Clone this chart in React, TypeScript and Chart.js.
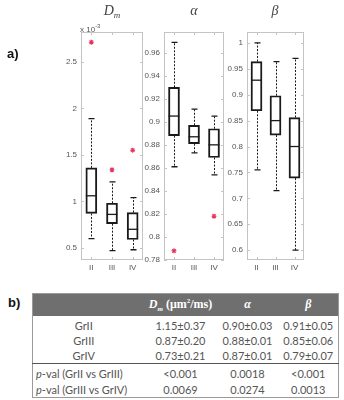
import React, { useEffect, useRef } from "react";
import { Chart, registerables } from "chart.js";

Chart.register(...registerables);

const GROUPS = ["II", "III", "IV"];

// D_m panel (values x 10^-3)
const DM_LOW = [0.6, 0.47, 0.48];
const DM_Q1 = [0.87, 0.76, 0.59];
const DM_MED = [1.06, 0.86, 0.7];
const DM_Q3 = [1.36, 0.98, 0.88];
const DM_HIGH = [1.89, 1.21, 1.04];
const DM_OUT: (number | null)[] = [2.71, 1.34, 1.55];
const DM_TICKS = [0.5, 1, 1.5, 2, 2.5];
const DM_MIN = 0.37;
const DM_MAX = 2.82;

// alpha panel
const AL_LOW = [0.861, 0.873, 0.854];
const AL_Q1 = [0.888, 0.881, 0.869];
const AL_MED = [0.905, 0.887, 0.88];
const AL_Q3 = [0.93, 0.897, 0.894];
const AL_HIGH = [0.969, 0.911, 0.905];
const AL_OUT: (number | null)[] = [0.788, null, 0.818];
const AL_TICKS = [0.78, 0.8, 0.82, 0.84, 0.86, 0.88, 0.9, 0.92, 0.94, 0.96];
const AL_MIN = 0.78;
const AL_MAX = 0.978;

// beta panel
const BE_LOW = [0.755, 0.715, 0.6];
const BE_Q1 = [0.869, 0.822, 0.739];
const BE_MED = [0.928, 0.85, 0.8];
const BE_Q3 = [0.964, 0.898, 0.856];
const BE_HIGH = [1.0, 0.964, 0.97];
const BE_OUT: (number | null)[] = [null, null, null];
const BE_TICKS = [0.6, 0.65, 0.7, 0.75, 0.8, 0.85, 0.9, 0.95, 1];
const BE_MIN = 0.581;
const BE_MAX = 1.021;

// table
const TABLE_GROUPS = ["GrII", "GrIII", "GrIV"];
const TABLE_DM = ["1.15±0.37", "0.87±0.20", "0.73±0.21"];
const TABLE_ALPHA = ["0.90±0.03", "0.88±0.01", "0.87±0.01"];
const TABLE_BETA = ["0.91±0.05", "0.85±0.06", "0.79±0.07"];
const PVAL_LABELS = ["(GrII vs GrIII)", "(GrIII vs GrIV)"];
const PVAL_DM = ["<0.001", "0.0069"];
const PVAL_ALPHA = ["0.0018", "0.0274"];
const PVAL_BETA = ["<0.001", "0.0013"];

const AXIS_COLOR = "#c4c4c4";
const TICK_TEXT = "#555";
const BOX_COLOR = "#1a1a1a";
const OUT_COLOR = "rgb(232,52,92)";
const TICK_FONT = { family: "'Liberation Sans', Arial, sans-serif", size: 8 };

type PanelProps = {
  low: number[];
  q1: number[];
  med: number[];
  q3: number[];
  high: number[];
  out: (number | null)[];
  ticks: number[];
  min: number;
  max: number;
  left: number;
  width: number;
  yAxisWidth: number;
  padRight: number;
};

function BoxPanel(p: PanelProps) {
  const ref = useRef<HTMLCanvasElement>(null);
  useEffect(() => {
    const canvas = ref.current;
    if (!canvas) return;
    const boxParts = {
      id: "boxParts",
      beforeDatasetsDraw(chart: any) {
        const { ctx, chartArea: a, scales } = chart;
        ctx.save();
        ctx.strokeStyle = AXIS_COLOR;
        ctx.lineWidth = 1;
        ctx.strokeRect(a.left + 0.5, a.top + 0.5, a.right - a.left - 1, a.bottom - a.top - 1);
        ctx.beginPath();
        p.ticks.forEach((v) => {
          const y = Math.round(scales.y.getPixelForValue(v)) + 0.5;
          ctx.moveTo(a.left, y);
          ctx.lineTo(a.left + 3, y);
          ctx.moveTo(a.right - 3, y);
          ctx.lineTo(a.right, y);
        });
        GROUPS.forEach((_, i) => {
          const x = Math.round(scales.x.getPixelForValue(i)) + 0.5;
          ctx.moveTo(x, a.bottom);
          ctx.lineTo(x, a.bottom - 3);
          ctx.moveTo(x, a.top);
          ctx.lineTo(x, a.top + 3);
        });
        ctx.stroke();
        ctx.restore();
      },
      afterDatasetsDraw(chart: any) {
        const { ctx, scales } = chart;
        const meta = chart.getDatasetMeta(0);
        ctx.save();
        GROUPS.forEach((_, i) => {
          const bar = meta.data[i];
          const x = Math.round(bar.x) + 0.5;
          const half = bar.width / 2;
          const yLow = scales.y.getPixelForValue(p.low[i]);
          const yQ1 = scales.y.getPixelForValue(p.q1[i]);
          const yQ3 = scales.y.getPixelForValue(p.q3[i]);
          const yHigh = scales.y.getPixelForValue(p.high[i]);
          const yMed = scales.y.getPixelForValue(p.med[i]);
          ctx.strokeStyle = BOX_COLOR;
          ctx.lineWidth = 1;
          ctx.setLineDash([2, 1.5]);
          ctx.beginPath();
          ctx.moveTo(x, yQ3);
          ctx.lineTo(x, yHigh);
          ctx.moveTo(x, yQ1);
          ctx.lineTo(x, yLow);
          ctx.stroke();
          ctx.setLineDash([]);
          ctx.lineWidth = 1.3;
          ctx.beginPath();
          ctx.moveTo(x - 3, yHigh);
          ctx.lineTo(x + 3, yHigh);
          ctx.moveTo(x - 3, yLow);
          ctx.lineTo(x + 3, yLow);
          ctx.stroke();
          ctx.lineWidth = 1.3;
          ctx.beginPath();
          ctx.moveTo(bar.x - half, yMed);
          ctx.lineTo(bar.x + half, yMed);
          ctx.stroke();
        });
        ctx.restore();
      },
    };

    const datasets: any[] = [
      {
        type: "bar",
        data: GROUPS.map((_, i) => [p.q1[i], p.q3[i]]),
        backgroundColor: "rgba(255,255,255,0)",
        borderColor: BOX_COLOR,
        borderWidth: 1.3,
        borderSkipped: false,
        barThickness: 11,
        order: 2,
      },
    ];
    if (p.out.some((v) => v != null)) {
      datasets.push({
        type: "line",
        data: p.out,
        showLine: false,
        pointStyle: "star",
        pointRadius: 2.5,
        pointBorderWidth: 1.1,
        pointBorderColor: OUT_COLOR,
        pointBackgroundColor: OUT_COLOR,
        borderColor: OUT_COLOR,
        order: 1,
      });
    }

    const chart = new Chart(canvas, {
      type: "bar",
      data: { labels: GROUPS, datasets },
      options: {
        animation: false,
        responsive: false,
        maintainAspectRatio: false,
        events: [],
        layout: { padding: { top: 32, right: p.padRight, left: 0, bottom: 0 } },
        plugins: { legend: { display: false }, tooltip: { enabled: false }, title: { display: false } },
        scales: {
          x: {
            type: "category",
            offset: true,
            grid: { display: false, drawTicks: false },
            border: { display: false },
            ticks: { color: TICK_TEXT, font: TICK_FONT, padding: 3, maxRotation: 0, autoSkip: false },
            afterFit: (s: any) => {
              s.height = 20;
            },
          },
          y: {
            type: "linear",
            min: p.min,
            max: p.max,
            grid: { display: false, drawTicks: false },
            border: { display: false },
            ticks: {
              color: TICK_TEXT,
              font: TICK_FONT,
              padding: 4,
              autoSkip: false,
              callback: (v: any) => String(v),
            },
            afterBuildTicks: (s: any) => {
              s.ticks = p.ticks.map((v) => ({ value: v }));
            },
            afterFit: (s: any) => {
              s.width = p.yAxisWidth;
            },
          },
        },
      } as any,
      plugins: [boxParts],
    });
    return () => chart.destroy();
  }, []);
  return (
    <canvas
      ref={ref}
      width={p.width}
      height={280}
      style={{ position: "absolute", left: p.left, top: 0, width: p.width, height: 280 }}
    />
  );
}

const serif = "'Liberation Serif', 'DejaVu Serif', serif";
const sans = "'Liberation Sans', Arial, sans-serif";
const tableFont = "Lato, 'Open Sans', sans-serif";

function Title(props: { cx: number; children: React.ReactNode }) {
  return (
    <div
      style={{
        position: "absolute",
        left: props.cx - 30,
        top: 4,
        width: 60,
        textAlign: "center",
        fontFamily: serif,
        fontStyle: "italic",
        fontSize: 14,
        lineHeight: "14px",
        color: "#444",
      }}
    >
      {props.children}
    </div>
  );
}

export default function App() {
  const cellBase: React.CSSProperties = {
    padding: 0,
    textAlign: "center",
    whiteSpace: "nowrap",
    overflow: "visible",
  };
  const headCell: React.CSSProperties = {
    ...cellBase,
    color: "#fff",
    fontFamily: serif,
    fontWeight: "bold",
    fontSize: 12,
  };
  return (
    <div
      style={{
        position: "fixed",
        left: 0,
        top: 0,
        width: 344,
        height: 400,
        background: "#fff",
        overflow: "hidden",
      }}
    >
      <BoxPanel
        low={DM_LOW}
        q1={DM_Q1}
        med={DM_MED}
        q3={DM_Q3}
        high={DM_HIGH}
        out={DM_OUT}
        ticks={DM_TICKS}
        min={DM_MIN}
        max={DM_MAX}
        left={40}
        width={110}
        yAxisWidth={41}
        padRight={7}
      />
      <BoxPanel
        low={AL_LOW}
        q1={AL_Q1}
        med={AL_MED}
        q3={AL_Q3}
        high={AL_HIGH}
        out={AL_OUT}
        ticks={AL_TICKS}
        min={AL_MIN}
        max={AL_MAX}
        left={130}
        width={100}
        yAxisWidth={34}
        padRight={6}
      />
      <BoxPanel
        low={BE_LOW}
        q1={BE_Q1}
        med={BE_MED}
        q3={BE_Q3}
        high={BE_HIGH}
        out={BE_OUT}
        ticks={BE_TICKS}
        min={BE_MIN}
        max={BE_MAX}
        left={210}
        width={105}
        yAxisWidth={37}
        padRight={11}
      />

      <Title cx={112}>
        D<sub style={{ fontSize: 9, verticalAlign: "-3px" }}>m</sub>
      </Title>
      <Title cx={194}>α</Title>
      <Title cx={275}>β</Title>

      <div
        style={{
          position: "absolute",
          left: 80,
          top: 21,
          fontFamily: sans,
          fontSize: 8,
          lineHeight: "10px",
          color: TICK_TEXT,
          whiteSpace: "nowrap",
        }}
      >
        x 10<sup style={{ fontSize: 6, verticalAlign: "4px" }}>-3</sup>
      </div>

      <div
        style={{
          position: "absolute",
          left: 7,
          top: 47,
          fontFamily: sans,
          fontWeight: "bold",
          fontSize: 13,
          lineHeight: "14px",
          color: "#111",
        }}
      >
        a)
      </div>
      <div
        style={{
          position: "absolute",
          left: 8,
          top: 296,
          fontFamily: sans,
          fontWeight: "bold",
          fontSize: 13,
          lineHeight: "14px",
          color: "#111",
        }}
      >
        b)
      </div>

      <table
        style={{
          position: "absolute",
          left: 32,
          top: 293,
          width: 306,
          borderCollapse: "collapse",
          tableLayout: "fixed",
          fontFamily: tableFont,
          fontSize: 11,
          color: "#555",
          border: "1px solid #9a9a9a",
        }}
      >
        <colgroup>
          <col style={{ width: 115 }} />
          <col style={{ width: 66 }} />
          <col style={{ width: 68 }} />
          <col style={{ width: 57 }} />
        </colgroup>
        <tbody>
          <tr style={{ height: 22, background: "#6f6f6f" }}>
            <td style={headCell}></td>
            <td style={{ ...headCell, paddingLeft: 0 }}>
              <i>D</i>
              <sub style={{ fontSize: 7, fontStyle: "italic" }}>m</sub> (μm<sup style={{ fontSize: 7 }}>2</sup>/ms)
            </td>
            <td style={headCell}>
              <i>α</i>
            </td>
            <td style={{ ...headCell, paddingRight: 3 }}>
              <i>β</i>
            </td>
          </tr>
          {TABLE_GROUPS.map((g, i) => (
            <tr key={g} style={{ height: i === 0 ? 17 : 15, lineHeight: "15px", verticalAlign: i === 0 ? "bottom" : "middle" }}>
              <td style={{ ...cellBase, paddingRight: 13 }}>{g}</td>
              <td style={cellBase}>{TABLE_DM[i]}</td>
              <td style={cellBase}>{TABLE_ALPHA[i]}</td>
              <td style={{ ...cellBase, paddingRight: 3 }}>{TABLE_BETA[i]}</td>
            </tr>
          ))}
          {PVAL_LABELS.map((lab, i) => (
            <tr
              key={lab}
              style={{
                height: i === 0 ? 18 : 16,
                lineHeight: "15px",
                verticalAlign: "bottom",
                borderTop: i === 0 ? "1px solid #555" : undefined,
              }}
            >
              <td style={{ ...cellBase, textAlign: "left", paddingLeft: 3 }}>
                <i>p</i>-val {lab}
              </td>
              <td style={cellBase}>{PVAL_DM[i]}</td>
              <td style={cellBase}>{PVAL_ALPHA[i]}</td>
              <td style={{ ...cellBase, paddingRight: 3 }}>{PVAL_BETA[i]}</td>
            </tr>
          ))}
        </tbody>
      </table>
    </div>
  );
}
